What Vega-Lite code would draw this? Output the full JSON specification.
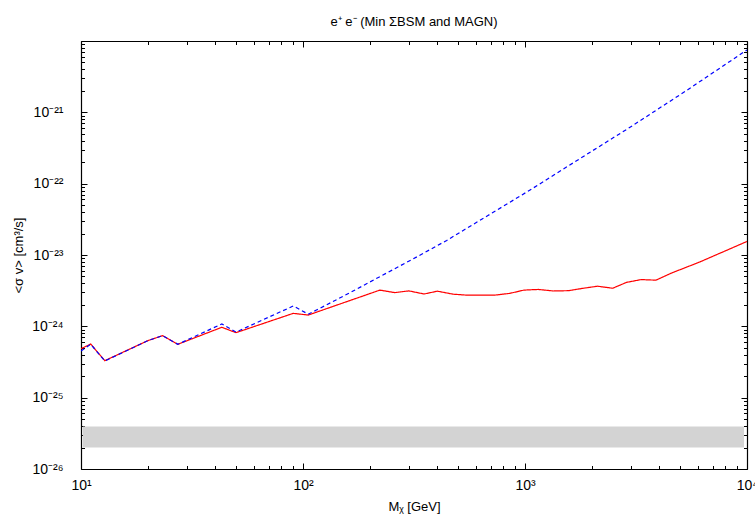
{
  "$schema": "https://vega.github.io/schema/vega-lite/v6.json",
  "width": 666,
  "height": 428,
  "autosize": "none",
  "padding": {"left": 81, "top": 41, "right": 8, "bottom": 47},
  "background": "white",
  "title": {"text": "e⁺ e⁻ (Min ΣBSM and MAGN)", "font": "Liberation Sans", "fontSize": 13, "fontWeight": "normal", "color": "#000", "offset": 12, "anchor": "middle"},
  "config": {"view": {"stroke": null}, "font": "Liberation Sans"},
  "datasets": {
    "band": [{"xlo": 10.2, "xhi": 9700, "ylo": 2e-26, "yhi": 3.95e-26}],
    "curves": [
      {"series": "Prompt + IC", "mass": 10, "sigmav": 4.85e-25},
      {"series": "Prompt + IC", "mass": 11.06, "sigmav": 5.65e-25},
      {"series": "Prompt + IC", "mass": 12.8, "sigmav": 3.3e-25},
      {"series": "Prompt + IC", "mass": 20.0, "sigmav": 6.3e-25},
      {"series": "Prompt + IC", "mass": 23.3, "sigmav": 7.4e-25},
      {"series": "Prompt + IC", "mass": 27.3, "sigmav": 5.6e-25},
      {"series": "Prompt + IC", "mass": 43.1, "sigmav": 9.7e-25},
      {"series": "Prompt + IC", "mass": 49.9, "sigmav": 8.15e-25},
      {"series": "Prompt + IC", "mass": 90.4, "sigmav": 1.52e-24},
      {"series": "Prompt + IC", "mass": 105.6, "sigmav": 1.44e-24},
      {"series": "Prompt + IC", "mass": 222, "sigmav": 3.22e-24},
      {"series": "Prompt + IC", "mass": 259, "sigmav": 2.97e-24},
      {"series": "Prompt + IC", "mass": 300, "sigmav": 3.14e-24},
      {"series": "Prompt + IC", "mass": 351, "sigmav": 2.84e-24},
      {"series": "Prompt + IC", "mass": 403, "sigmav": 3.11e-24},
      {"series": "Prompt + IC", "mass": 475, "sigmav": 2.82e-24},
      {"series": "Prompt + IC", "mass": 546, "sigmav": 2.74e-24},
      {"series": "Prompt + IC", "mass": 733, "sigmav": 2.74e-24},
      {"series": "Prompt + IC", "mass": 855, "sigmav": 2.9e-24},
      {"series": "Prompt + IC", "mass": 989, "sigmav": 3.22e-24},
      {"series": "Prompt + IC", "mass": 1148, "sigmav": 3.29e-24},
      {"series": "Prompt + IC", "mass": 1341, "sigmav": 3.13e-24},
      {"series": "Prompt + IC", "mass": 1567, "sigmav": 3.16e-24},
      {"series": "Prompt + IC", "mass": 1833, "sigmav": 3.42e-24},
      {"series": "Prompt + IC", "mass": 2123, "sigmav": 3.65e-24},
      {"series": "Prompt + IC", "mass": 2483, "sigmav": 3.42e-24},
      {"series": "Prompt + IC", "mass": 2870, "sigmav": 4.14e-24},
      {"series": "Prompt + IC", "mass": 3334, "sigmav": 4.52e-24},
      {"series": "Prompt + IC", "mass": 3893, "sigmav": 4.44e-24},
      {"series": "Prompt + IC", "mass": 4580, "sigmav": 5.6e-24},
      {"series": "Prompt + IC", "mass": 6140, "sigmav": 8.0e-24},
      {"series": "Prompt + IC", "mass": 10000, "sigmav": 1.55e-23},
      {"series": "Prompt", "mass": 10, "sigmav": 4.5e-25},
      {"series": "Prompt", "mass": 11.06, "sigmav": 5.6e-25},
      {"series": "Prompt", "mass": 12.8, "sigmav": 3.27e-25},
      {"series": "Prompt", "mass": 20.0, "sigmav": 6.3e-25},
      {"series": "Prompt", "mass": 23.3, "sigmav": 7.4e-25},
      {"series": "Prompt", "mass": 27.3, "sigmav": 5.6e-25},
      {"series": "Prompt", "mass": 43.1, "sigmav": 1.08e-24},
      {"series": "Prompt", "mass": 49.9, "sigmav": 8.3e-25},
      {"series": "Prompt", "mass": 90.4, "sigmav": 1.93e-24},
      {"series": "Prompt", "mass": 105.6, "sigmav": 1.48e-24},
      {"series": "Prompt", "mass": 115, "sigmav": 1.69e-24},
      {"series": "Prompt", "mass": 163, "sigmav": 2.97e-24},
      {"series": "Prompt", "mass": 222, "sigmav": 4.97e-24},
      {"series": "Prompt", "mass": 313, "sigmav": 8.8e-24},
      {"series": "Prompt", "mass": 444, "sigmav": 1.6e-23},
      {"series": "Prompt", "mass": 681, "sigmav": 3.58e-23},
      {"series": "Prompt", "mass": 1054, "sigmav": 8.15e-23},
      {"series": "Prompt", "mass": 1770, "sigmav": 2.25e-22},
      {"series": "Prompt", "mass": 2972, "sigmav": 6.17e-22},
      {"series": "Prompt", "mass": 5310, "sigmav": 2.0e-21},
      {"series": "Prompt", "mass": 10000, "sigmav": 7.5e-21}
    ]
  },
  "layer": [
    {
      "data": {"name": "band"},
      "mark": {"type": "rect", "color": "#d3d3d3"},
      "encoding": {
        "x": {"field": "xlo", "type": "quantitative",
          "scale": {"type": "log", "domain": [10, 10000], "nice": false},
          "axis": {"orient": "bottom", "values": [10, 100, 1000, 10000], "ticks": false, "domainColor": "#000", "domainWidth": 1.2,
            "labelExpr": "'10' + ['⁰','¹','²','³','⁴'][round(log(datum.value)/LN10)]",
            "labelFontSize": 14, "labelColor": "#000", "labelPadding": 9, "labelFlush": false,
            "grid": false, "title": "Mᵪ [GeV]", "titleFontSize": 13, "titleFontWeight": "normal", "titleColor": "#000", "titlePadding": 8}},
        "x2": {"field": "xhi"},
        "y": {"field": "ylo", "type": "quantitative",
          "scale": {"type": "log", "domain": [1e-26, 1e-20], "nice": false},
          "axis": {"orient": "left", "values": [1e-26, 1e-25, 1e-24, 1e-23, 1e-22, 1e-21, 1e-20], "ticks": false, "domainColor": "#000", "domainWidth": 1.2,
            "labelExpr": "round(log(datum.value)/LN10) == -20 ? '' : '10⁻²' + ['⁰','¹','²','³','⁴','⁵','⁶'][-20 - round(log(datum.value)/LN10)]",
            "labelFontSize": 14, "labelColor": "#000", "labelPadding": 18, "labelFlush": false,
            "grid": false, "title": "<σ v> [cm³/s]", "titleFontSize": 13, "titleFontWeight": "normal", "titleColor": "#000", "titlePadding": 6}},
        "y2": {"field": "yhi"}
      }
    },
    {
      "data": {"name": "curves"},
      "mark": {"type": "line", "strokeWidth": 1.2, "clip": true},
      "encoding": {
        "x": {"field": "mass", "type": "quantitative",
          "scale": {"type": "log", "domain": [10, 10000], "nice": false},
          "axis": {"orient": "top", "ticks": false, "domainColor": "#000", "domainWidth": 1.2, "labels": false, "grid": false, "title": null}},
        "y": {"field": "sigmav", "type": "quantitative",
          "scale": {"type": "log", "domain": [1e-26, 1e-20], "nice": false},
          "axis": {"orient": "right", "ticks": false, "domainColor": "#000", "domainWidth": 1.2, "labels": false, "grid": false, "title": null}},
        "stroke": {"field": "series", "type": "nominal",
          "scale": {"domain": ["Prompt + IC", "Prompt"], "range": ["#ff0000", "#0000ff"]},
          "legend": null},
        "strokeDash": {"field": "series", "type": "nominal",
          "scale": {"domain": ["Prompt + IC", "Prompt"], "range": [[1, 0], [4, 3]]},
          "legend": {"title": null, "orient": "none", "legendX": 620, "legendY": 5, "symbolType": "M-4.8,0H4.8", "symbolSize": 81, "symbolStrokeWidth": 1.2, "labelFontSize": 15, "labelColor": "#000", "labelAlign": "right", "labelOffset": -41, "rowPadding": -1, "padding": 2,
            "encode": {"symbols": {"update": {"stroke": {"signal": "datum.value == 'Prompt' ? '#0000ff' : '#ff0000'"}, "fill": {"value": "transparent"}}}}}}
      }
    },
    {
      "data": {"name": "band"},
      "mark": {"type": "point", "opacity": 0},
      "encoding": {
        "x": {"field": "xlo", "type": "quantitative",
          "scale": {"type": "log", "domain": [10, 10000], "nice": false},
          "axis": {"orient": "bottom", "offset": -6, "values": [10, 100, 1000, 10000], "tickSize": 6, "tickColor": "#000", "domain": false, "labels": false, "grid": false, "title": null}},
        "y": {"field": "ylo", "type": "quantitative",
          "scale": {"type": "log", "domain": [1e-26, 1e-20], "nice": false},
          "axis": {"orient": "left", "offset": -6, "values": [1e-26, 1e-25, 1e-24, 1e-23, 1e-22, 1e-21, 1e-20], "tickSize": 6, "tickColor": "#000", "domain": false, "labels": false, "grid": false, "title": null}}
      }
    },
    {
      "data": {"name": "band"},
      "mark": {"type": "point", "opacity": 0},
      "encoding": {
        "x": {"field": "xlo", "type": "quantitative",
          "scale": {"type": "log", "domain": [10, 10000], "nice": false},
          "axis": {"orient": "top", "offset": -6, "values": [10, 100, 1000, 10000], "tickSize": 6, "tickColor": "#000", "domain": false, "labels": false, "grid": false, "title": null}},
        "y": {"field": "ylo", "type": "quantitative",
          "scale": {"type": "log", "domain": [1e-26, 1e-20], "nice": false},
          "axis": {"orient": "right", "offset": -6, "values": [1e-26, 1e-25, 1e-24, 1e-23, 1e-22, 1e-21, 1e-20], "tickSize": 6, "tickColor": "#000", "domain": false, "labels": false, "grid": false, "title": null}}
      }
    },
    {
      "data": {"name": "band"},
      "mark": {"type": "point", "opacity": 0},
      "encoding": {
        "x": {"field": "xlo", "type": "quantitative",
          "scale": {"type": "log", "domain": [10, 10000], "nice": false},
          "axis": {"orient": "bottom", "offset": -3.5, "values": [20, 30, 40, 50, 60, 70, 80, 90, 200, 300, 400, 500, 600, 700, 800, 900, 2000, 3000, 4000, 5000, 6000, 7000, 8000, 9000], "tickSize": 3.5, "tickColor": "#000", "domain": false, "labels": false, "grid": false, "title": null}},
        "y": {"field": "ylo", "type": "quantitative",
          "scale": {"type": "log", "domain": [1e-26, 1e-20], "nice": false},
          "axis": {"orient": "left", "offset": -3.5, "values": [2e-26, 3e-26, 4e-26, 5e-26, 6e-26, 7e-26, 8e-26, 9e-26, 2e-25, 3e-25, 4e-25, 5e-25, 6e-25, 7e-25, 8e-25, 9e-25, 2e-24, 3e-24, 4e-24, 5e-24, 6e-24, 7e-24, 8e-24, 9e-24, 2e-23, 3e-23, 4e-23, 5e-23, 6e-23, 7e-23, 8e-23, 9e-23, 2e-22, 3e-22, 4e-22, 5e-22, 6e-22, 7e-22, 8e-22, 9e-22, 2e-21, 3e-21, 4e-21, 5e-21, 6e-21, 7e-21, 8e-21, 9e-21], "tickSize": 3.5, "tickColor": "#000", "domain": false, "labels": false, "grid": false, "title": null}}
      }
    },
    {
      "data": {"name": "band"},
      "mark": {"type": "point", "opacity": 0},
      "encoding": {
        "x": {"field": "xlo", "type": "quantitative",
          "scale": {"type": "log", "domain": [10, 10000], "nice": false},
          "axis": {"orient": "top", "offset": -3.5, "values": [20, 30, 40, 50, 60, 70, 80, 90, 200, 300, 400, 500, 600, 700, 800, 900, 2000, 3000, 4000, 5000, 6000, 7000, 8000, 9000], "tickSize": 3.5, "tickColor": "#000", "domain": false, "labels": false, "grid": false, "title": null}},
        "y": {"field": "ylo", "type": "quantitative",
          "scale": {"type": "log", "domain": [1e-26, 1e-20], "nice": false},
          "axis": {"orient": "right", "offset": -3.5, "values": [2e-26, 3e-26, 4e-26, 5e-26, 6e-26, 7e-26, 8e-26, 9e-26, 2e-25, 3e-25, 4e-25, 5e-25, 6e-25, 7e-25, 8e-25, 9e-25, 2e-24, 3e-24, 4e-24, 5e-24, 6e-24, 7e-24, 8e-24, 9e-24, 2e-23, 3e-23, 4e-23, 5e-23, 6e-23, 7e-23, 8e-23, 9e-23, 2e-22, 3e-22, 4e-22, 5e-22, 6e-22, 7e-22, 8e-22, 9e-22, 2e-21, 3e-21, 4e-21, 5e-21, 6e-21, 7e-21, 8e-21, 9e-21], "tickSize": 3.5, "tickColor": "#000", "domain": false, "labels": false, "grid": false, "title": null}}
      }
    }
  ],
  "resolve": {"axis": {"x": "independent", "y": "independent"}}
}
